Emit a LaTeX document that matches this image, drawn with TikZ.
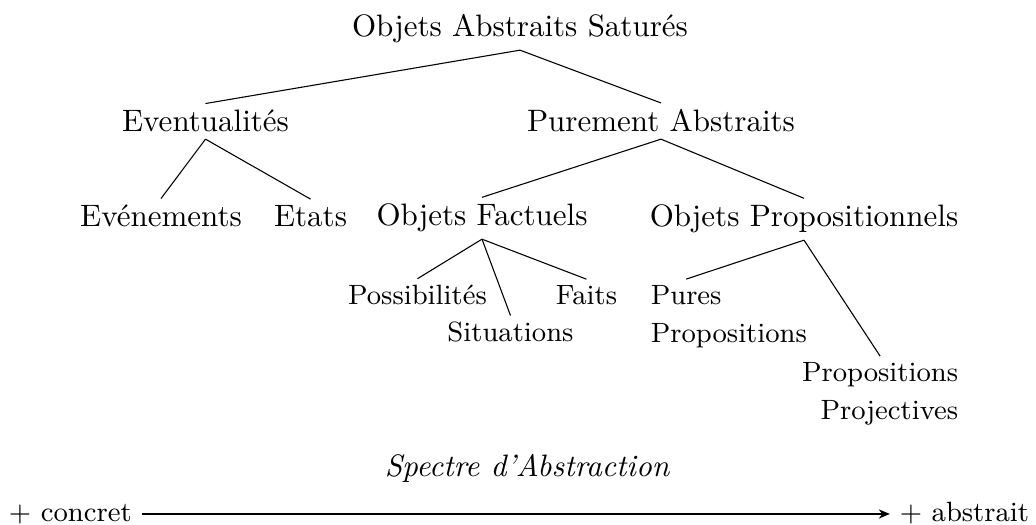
\documentclass[tikz,border=0pt]{standalone}
\usetikzlibrary{arrows.meta}
\begin{document}
\begin{tikzpicture}[x=0.3226pt,y=-0.3226pt,
  big/.style={font=\fontsize{10}{12}\selectfont, inner sep=2pt},
  small/.style={font=\fontsize{9}{11}\selectfont, inner sep=2pt},
  axis/.style={font=\fontsize{9}{11}\selectfont, text height=1.45ex, text depth=.25ex, inner sep=3pt},
  edge/.style={line width=0.35pt}]
\useasboundingbox (0,0) rectangle (1036,525);
\node[big, anchor=base] (root) at (520,37) {Objets Abstraits Saturés};
\node[big, anchor=base] (eve) at (205.5,132) {Eventualités};
\node[big, anchor=base] (pur) at (661,132) {Purement Abstraits};
\node[big, anchor=base] (even) at (161,227) {Evénements};
\node[big, anchor=base] (etats) at (310.5,227) {Etats};
\node[big, anchor=base] (ofac) at (482,226) {Objets Factuels};
\node[big, anchor=base] (oprop) at (804,227) {Objets Propositionnels};
\node[small, anchor=base] (poss) at (417.5,305) {Possibilités};
\node[small, anchor=base] (sit) at (510.5,342) {Situations};
\node[small, anchor=base] (faits) at (586.5,305) {Faits};
\node[small, anchor=base west] (pures) at (644,305) {Pures};
\node[small, anchor=base west] (pures2) at (644,343) {Propositions};
\node[small, anchor=base east] (prop) at (965,382) {Propositions};
\node[small, anchor=base east] (proj) at (965,420) {Projectives};
\node[big, anchor=base] (spectre) at (527,477) {\itshape Spectre d'Abstraction};
\node[axis, anchor=base west] (concret) at (-1,522) {$+$ concret};
\node[axis, anchor=base east] (abstrait) at (1039,522) {$+$ abstrait};
\draw[edge] (root.south) -- (eve.north);
\draw[edge] (root.south) -- (pur.north);
\draw[edge] (eve.south) -- (even.north);
\draw[edge] (eve.south) -- (etats.north);
\draw[edge] (pur.south) -- (ofac.north);
\draw[edge] (pur.south) -- (oprop.north);
\draw[edge] (ofac.south) -- (poss.north);
\draw[edge] (ofac.south) -- (sit.north);
\draw[edge] (ofac.south) -- (faits.north);
\draw[edge] (oprop.south) -- (pures.north);
\draw[edge] (oprop.south) -- (prop.north);
\draw[edge, -{Stealth[length=3.6pt,width=3pt]}] (concret.east) -- (abstrait.west);
\end{tikzpicture}
\end{document}
